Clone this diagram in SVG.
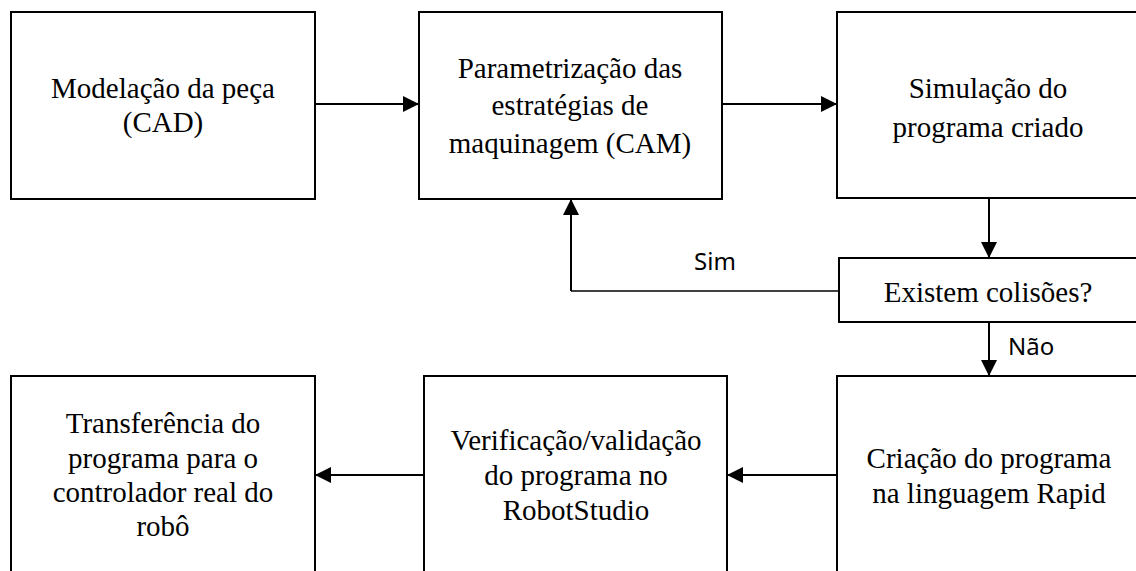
<svg xmlns="http://www.w3.org/2000/svg" width="1136" height="571" viewBox="0 0 1136 571">
  <style>
    .box { fill: #ffffff; stroke: #000000; stroke-width: 2; }
    .lbl { font-family: 'Liberation Serif', 'Times New Roman', Tinos, 'Noto Serif', 'DejaVu Serif', serif; font-size: 29px; fill: #000000; text-anchor: middle; }
    .tag { font-family: 'Noto Sans', 'Open Sans', sans-serif; font-size: 24px; fill: #000000; }
    .edge { fill: none; stroke: #000000; stroke-width: 2; }
    .thin { fill: none; stroke: #000000; stroke-width: 1.3; }
  </style>
  <defs>
    <marker id="arrow" markerUnits="userSpaceOnUse" markerWidth="16" markerHeight="16" refX="16" refY="8" orient="auto">
      <path d="M0,0 L16,8 L0,16 z" fill="#000000"/>
    </marker>
  </defs>
  <rect width="1136" height="571" fill="#ffffff"/>

  <!-- connectors -->
  <g id="connectors">
    <line class="edge" x1="315" y1="104" x2="419" y2="104" marker-end="url(#arrow)"/>
    <line class="edge" x1="722" y1="104" x2="837" y2="104" marker-end="url(#arrow)"/>
    <line class="edge" x1="989" y1="198" x2="989" y2="258" marker-end="url(#arrow)"/>
    <polyline class="thin" points="839,291 571,291"/>
    <line class="edge" x1="571" y1="291" x2="571" y2="199" marker-end="url(#arrow)"/>
    <line class="edge" x1="989" y1="322" x2="989" y2="376" marker-end="url(#arrow)"/>
    <line class="edge" x1="837" y1="475" x2="727" y2="475" marker-end="url(#arrow)"/>
    <line class="edge" x1="424" y1="475" x2="315" y2="475" marker-end="url(#arrow)"/>
    <text class="tag" x="715" y="270" text-anchor="middle">Sim</text>
    <text class="tag" x="1008" y="355">Não</text>
  </g>

  <g id="modelacao">
    <rect class="box" x="11" y="12" width="304" height="187"/>
    <text class="lbl" x="163" y="98">Modelação da peça</text>
    <text class="lbl" x="163" y="132">(CAD)</text>
  </g>

  <g id="parametrizacao">
    <rect class="box" x="419" y="12" width="303" height="187"/>
    <text class="lbl" x="570" y="78">Parametrização das</text>
    <text class="lbl" x="570" y="115">estratégias de</text>
    <text class="lbl" x="570" y="153">maquinagem (CAM)</text>
  </g>

  <g id="simulacao">
    <rect class="box" x="837" y="12" width="303" height="186"/>
    <text class="lbl" x="988" y="98">Simulação do</text>
    <text class="lbl" x="988" y="137">programa criado</text>
  </g>

  <g id="colisoes">
    <rect class="box" x="839" y="258" width="300" height="64"/>
    <text class="lbl" x="988" y="302">Existem colisões?</text>
  </g>

  <g id="criacao">
    <rect class="box" x="837" y="376" width="303" height="200"/>
    <text class="lbl" x="989" y="468">Criação do programa</text>
    <text class="lbl" x="989" y="503">na linguagem Rapid</text>
  </g>

  <g id="verificacao">
    <rect class="box" x="424" y="376" width="303" height="200"/>
    <text class="lbl" x="576" y="450">Verificação/validação</text>
    <text class="lbl" x="576" y="485">do programa no</text>
    <text class="lbl" x="576" y="520">RobotStudio</text>
  </g>

  <g id="transferencia">
    <rect class="box" x="11" y="376" width="304" height="200"/>
    <text class="lbl" x="163" y="433">Transferência do</text>
    <text class="lbl" x="163" y="468">programa para o</text>
    <text class="lbl" x="163" y="502">controlador real do</text>
    <text class="lbl" x="163" y="536">robô</text>
  </g>
</svg>
